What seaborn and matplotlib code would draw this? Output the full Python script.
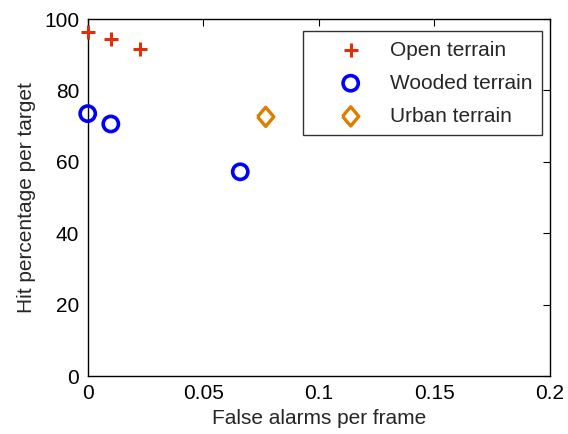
import matplotlib
matplotlib.use("Agg")
import matplotlib.pyplot as plt
import seaborn as sns
import pandas as pd

# Data
open_x = [0.0, 0.010, 0.0225]
open_y = [96.3, 94.4, 91.6]
wood_x = [0.0, 0.010, 0.066]
wood_y = [73.5, 70.6, 57.2]
urban_x = [0.077]
urban_y = [72.6]
series_names = ["Open terrain", "Wooded terrain", "Urban terrain"]
xticks = [0, 0.05, 0.1, 0.15, 0.2]
xtick_labels = ["0", "0.05", "0.1", "0.15", "0.2"]
yticks = [0, 20, 40, 60, 80, 100]

sns.set_style("white")
plt.rcParams['font.family'] = ['Liberation Sans', 'DejaVu Sans']

fig = plt.figure(figsize=(5.68, 4.34), dpi=100)
ax = fig.add_axes([0.1544, 0.1336, 0.8139, 0.8226])

red = "#E0300A"
blue = "#0000FF"
orange = "#E07D00"
diamond = [(-0.85, 0), (0, 1), (0.85, 0), (0, -1), (-0.85, 0)]

sns.scatterplot(x=open_x, y=open_y, ax=ax, marker="+", s=110, color=red,
                linewidth=2.2, label=series_names[0], zorder=3, clip_on=False)
sns.scatterplot(x=wood_x, y=wood_y, ax=ax, marker="o", s=120, facecolors="none",
                edgecolor=blue, linewidth=2.6, label=series_names[1], zorder=3, clip_on=False)
sns.scatterplot(x=urban_x, y=urban_y, ax=ax, marker=diamond, s=190, facecolors="none",
                edgecolor=orange, linewidth=2.4, label=series_names[2], zorder=3)

ax.set_xlim(0, 0.2)
ax.set_ylim(0, 100)
ax.set_xticks(xticks)
ax.set_xticklabels(xtick_labels)
ax.set_yticks(yticks)
ax.tick_params(direction="in", length=5, width=0.8, top=True, right=True,
               labelsize=15, colors="black", pad=6)
for sp in ax.spines.values():
    sp.set_visible(True)
    sp.set_color("black")
    sp.set_linewidth(1.0)
ax.set_xlabel("False alarms per frame", fontsize=15, labelpad=4)
ax.set_ylabel("Hit percentage per target", fontsize=15, labelpad=6)

leg = ax.legend(loc="upper right", bbox_to_anchor=(0.983, 0.966), fontsize=15,
                frameon=True, fancybox=False, edgecolor="black", borderaxespad=0.0,
                handletextpad=0.05, labelspacing=0.68, borderpad=0.45, handlelength=3.7)
leg.get_frame().set_linewidth(1.0)

fig.savefig("out.png", dpi=100)
